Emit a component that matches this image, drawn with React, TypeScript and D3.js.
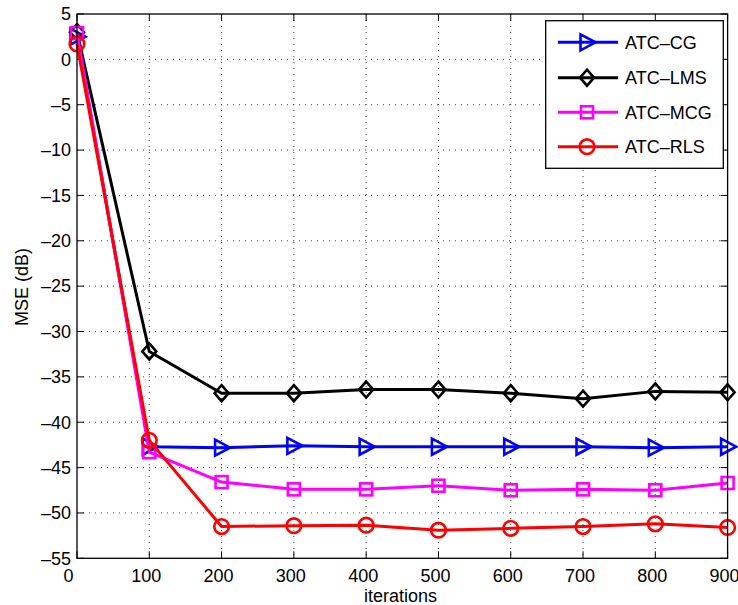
import React, { useEffect, useRef } from "react";
import * as d3 from "d3";

const iterations = [0, 100, 200, 300, 400, 500, 600, 700, 800, 900];
const atcCG = [2.5, -42.7, -42.8, -42.6, -42.7, -42.7, -42.7, -42.7, -42.8, -42.7];
const atcLMS = [3.0, -32.2, -36.8, -36.8, -36.4, -36.4, -36.8, -37.4, -36.6, -36.7];
const atcMCG = [2.9, -43.3, -46.6, -47.4, -47.4, -47.0, -47.5, -47.4, -47.5, -46.7];
const atcRLS = [1.7, -42.0, -51.5, -51.4, -51.35, -51.9, -51.7, -51.5, -51.2, -51.6];
const xTicks = [0, 100, 200, 300, 400, 500, 600, 700, 800, 900];
const yTicks = [5, 0, -5, -10, -15, -20, -25, -30, -35, -40, -45, -50, -55];

const seriesList = [
  { name: "ATC–CG", values: atcCG, color: "#0000ff", marker: "tri" },
  { name: "ATC–LMS", values: atcLMS, color: "#000000", marker: "diamond" },
  { name: "ATC–MCG", values: atcMCG, color: "#ff00ff", marker: "square" },
  { name: "ATC–RLS", values: atcRLS, color: "#ff0000", marker: "circle" },
];

const W = 738, H = 605;
const L = 77, R = 727.6, T = 14, B = 558.3;
const FONT = "'Liberation Sans', Arial, Helvetica, sans-serif";

function fmt(v: number) {
  return v < 0 ? "–" + Math.abs(v) : String(v);
}

function drawMarker(g: any, type: string, cx: number, cy: number, color: string) {
  const sw = 2.6;
  if (type === "tri") {
    g.append("path")
      .attr("d", `M${cx - 6.5},${cy - 8} L${cx + 8.5},${cy} L${cx - 6.5},${cy + 8} Z`)
      .attr("fill", "none").attr("stroke", color).attr("stroke-width", sw);
  } else if (type === "diamond") {
    g.append("path")
      .attr("d", `M${cx},${cy - 8} L${cx + 7},${cy} L${cx},${cy + 8} L${cx - 7},${cy} Z`)
      .attr("fill", "none").attr("stroke", color).attr("stroke-width", sw);
  } else if (type === "square") {
    g.append("rect")
      .attr("x", cx - 6).attr("y", cy - 6).attr("width", 12).attr("height", 12)
      .attr("fill", "none").attr("stroke", color).attr("stroke-width", sw);
  } else {
    g.append("circle").attr("cx", cx).attr("cy", cy).attr("r", 7.3)
      .attr("fill", "none").attr("stroke", color).attr("stroke-width", sw);
  }
}

export default function App() {
  const ref = useRef<SVGSVGElement>(null);
  useEffect(() => {
    const svg = d3.select(ref.current);
    svg.selectAll("*").remove();
    const x = d3.scaleLinear().domain([0, 900]).range([L, R]);
    const y = d3.scaleLinear().domain([-55, 5]).range([B, T]);

    svg.append("rect").attr("width", W).attr("height", H).attr("fill", "#fff");

    const grid = svg.append("g");
    xTicks.forEach((t) => {
      if (t === 0 || t === 900) return;
      grid.append("line").attr("x1", x(t)).attr("x2", x(t)).attr("y1", T).attr("y2", B)
        .attr("stroke", "#444").attr("stroke-width", 1).attr("stroke-dasharray", "1,5");
    });
    yTicks.forEach((t) => {
      if (t === 5 || t === -55) return;
      grid.append("line").attr("x1", L).attr("x2", R).attr("y1", y(t)).attr("y2", y(t))
        .attr("stroke", "#444").attr("stroke-width", 1).attr("stroke-dasharray", "1,5");
    });

    // ticks
    const tk = svg.append("g").attr("stroke", "#000").attr("stroke-width", 1);
    xTicks.forEach((t) => {
      tk.append("line").attr("x1", x(t)).attr("x2", x(t)).attr("y1", B).attr("y2", B - 7);
      tk.append("line").attr("x1", x(t)).attr("x2", x(t)).attr("y1", T).attr("y2", T + 7);
    });
    yTicks.forEach((t) => {
      tk.append("line").attr("x1", L).attr("x2", L + 7).attr("y1", y(t)).attr("y2", y(t));
      tk.append("line").attr("x1", R).attr("x2", R - 7).attr("y1", y(t)).attr("y2", y(t));
    });

    // series
    const lineGen = d3.line<number>().x((_, i) => x(iterations[i])).y((d) => y(d));
    const sg = svg.append("g");
    seriesList.forEach((s) => {
      sg.append("path").attr("d", lineGen(s.values) as string)
        .attr("fill", "none").attr("stroke", s.color).attr("stroke-width", 3)
        .attr("stroke-linejoin", "round");
      s.values.forEach((v, i) => drawMarker(sg, s.marker, x(iterations[i]), y(v), s.color));
    });

    // axes box
    svg.append("rect").attr("x", L).attr("y", T).attr("width", R - L).attr("height", B - T)
      .attr("fill", "none").attr("stroke", "#000").attr("stroke-width", 1.3);

    // tick labels
    const lab = svg.append("g").attr("font-family", FONT).attr("font-size", 18).attr("fill", "#000");
    xTicks.forEach((t) => {
      lab.append("text").attr("x", x(t) - (t === 0 ? 8.5 : 3)).attr("y", 581.7)
        .attr("text-anchor", "middle").text(fmt(t));
    });
    yTicks.forEach((t) => {
      lab.append("text").attr("x", 71).attr("y", y(t) + 6.3)
        .attr("text-anchor", "end").text(fmt(t));
    });

    // axis labels
    svg.append("text").attr("x", 400.5).attr("y", 602).attr("text-anchor", "middle")
      .attr("font-family", FONT).attr("font-size", 18).text("iterations");
    svg.append("text").attr("transform", `translate(28,287) rotate(-90)`)
      .attr("text-anchor", "middle").attr("font-family", FONT).attr("font-size", 18).text("MSE (dB)");

    // legend
    const lg = svg.append("g");
    lg.append("rect").attr("x", 545.7).attr("y", 20.7).attr("width", 177.6).attr("height", 147.6)
      .attr("fill", "#fff").attr("stroke", "#000").attr("stroke-width", 1.3);
    const rowY = [42.3, 77.7, 112.3, 146.7];
    seriesList.forEach((s, i) => {
      lg.append("line").attr("x1", 558).attr("x2", 618).attr("y1", rowY[i]).attr("y2", rowY[i])
        .attr("stroke", s.color).attr("stroke-width", 3);
      drawMarker(lg, s.marker, 587, rowY[i], s.color);
      lg.append("text").attr("x", 625).attr("y", rowY[i] + 6.5)
        .attr("font-family", FONT).attr("font-size", 18).attr("fill", "#000").text(s.name);
    });
  }, []);
  return (
    <svg ref={ref} width={W} height={H} style={{ position: "absolute", left: 0, top: 0 }} />
  );
}
